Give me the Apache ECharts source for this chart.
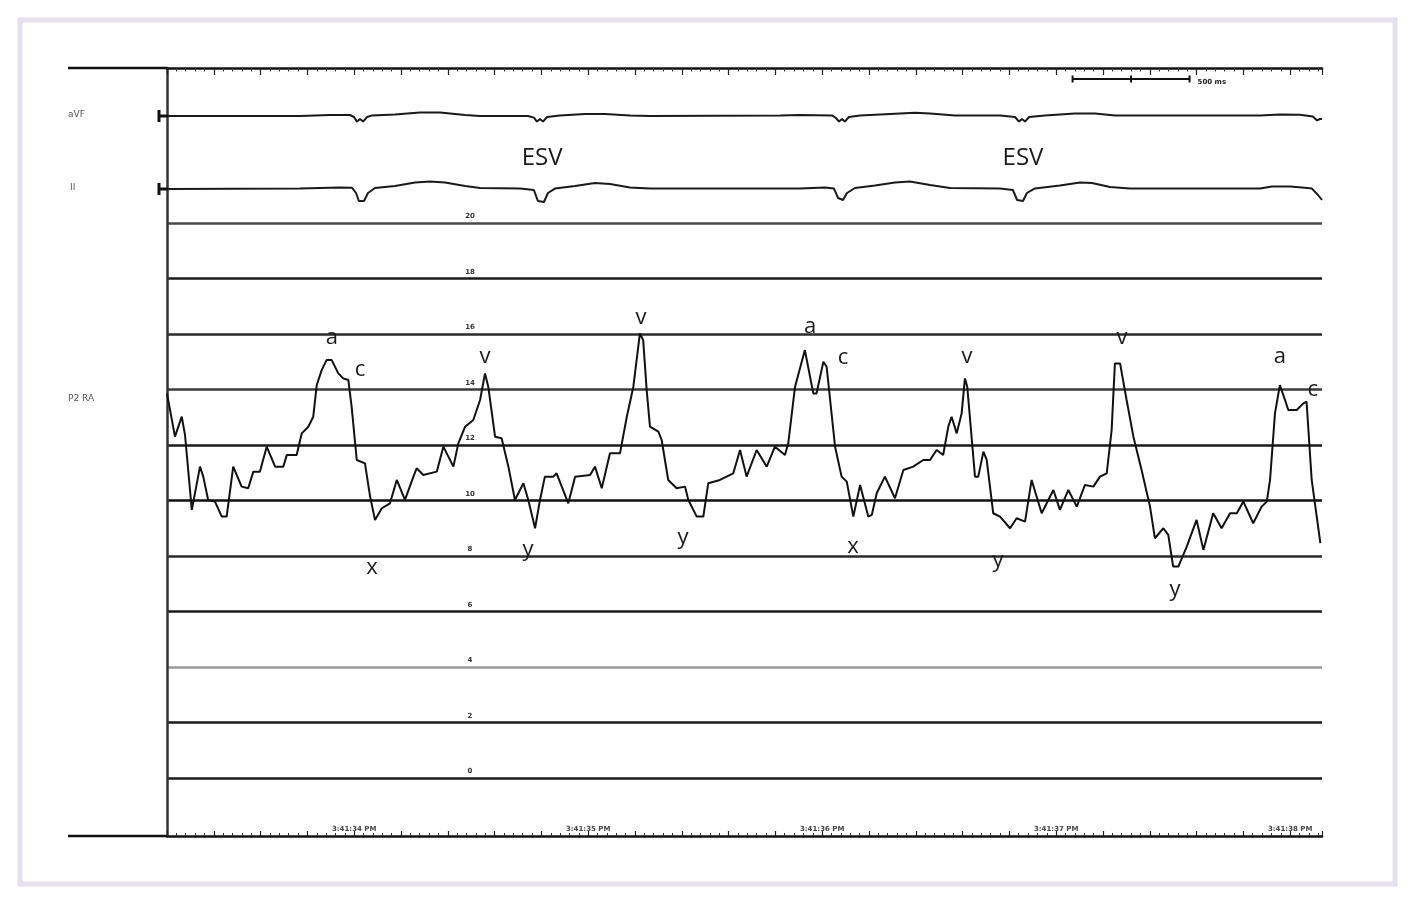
<!DOCTYPE html>
<html>
<head>
<meta charset="utf-8">
<script src="https://cdn.jsdelivr.net/npm/echarts@6/dist/echarts.min.js"></script>
<style>
html,body{margin:0;padding:0;background:#fff;}
#chart{width:1415px;height:904px;}
</style>
</head>
<body>
<div id="chart"></div>
<script>
// ---- Data ----
// Time axis (ms from start of strip)
var xMin = 0, xMax = 4936;
var timeLabelMs = [800, 1800, 2800, 3800, 4800];
var timeLabels = ['3:41:34 PM', '3:41:35 PM', '3:41:36 PM', '3:41:37 PM', '3:41:38 PM'];
var pressureTicks = [0, 2, 4, 6, 8, 10, 12, 14, 16, 18, 20];

// Right atrial pressure trace (mmHg)
var raTime = [0,34,63,77,106,141,155,176,205,234,255,283,319,347,369,397,426,462,497,512,554,576,604,625,640,661,682,704,732,753,775,789,811,846,868,889,918,953,982,1017,1053,1067,1095,1153,1181,1224,1245,1274,1309,1338,1359,1373,1402,1430,1459,1487,1523,1544,1573,1594,1615,1651,1665,1715,1744,1808,1829,1858,1893,1936,1965,1993,2021,2035,2050,2064,2100,2114,2142,2178,2214,2228,2264,2292,2313,2363,2420,2449,2477,2520,2563,2598,2641,2655,2684,2726,2762,2776,2805,2819,2855,2883,2905,2933,2962,2997,3012,3033,3068,3111,3147,3189,3232,3261,3289,3317,3339,3353,3375,3396,3410,3420,3453,3467,3489,3503,3531,3560,3603,3631,3667,3695,3738,3788,3816,3852,3888,3923,3959,3987,4016,4037,4051,4073,4101,4130,4165,4201,4222,4258,4279,4300,4322,4358,4400,4429,4471,4507,4543,4572,4600,4642,4678,4700,4714,4735,4756,4778,4792,4828,4856,4870,4892,4929];
var raValue = [13.86,12.30,13.02,12.36,9.66,11.22,10.86,10.02,9.96,9.42,9.42,11.22,10.50,10.44,11.04,11.04,11.94,11.22,11.22,11.64,11.64,12.42,12.66,13.02,14.16,14.70,15.06,15.06,14.58,14.40,14.34,13.38,11.46,11.34,10.14,9.30,9.72,9.90,10.74,10.02,10.86,11.16,10.92,11.04,11.94,11.22,12.06,12.66,12.90,13.62,14.58,14.10,12.30,12.24,11.22,10.02,10.62,10.02,9.00,10.02,10.86,10.86,10.98,9.90,10.86,10.92,11.22,10.44,11.70,11.70,13.02,14.10,16.02,15.78,13.98,12.66,12.48,12.18,10.74,10.44,10.50,10.02,9.42,9.42,10.62,10.74,10.98,11.82,10.86,11.82,11.22,11.94,11.64,12.06,14.10,15.42,13.86,13.86,15.00,14.82,11.94,10.86,10.68,9.42,10.56,9.42,9.48,10.26,10.86,10.08,11.10,11.22,11.46,11.46,11.82,11.64,12.66,13.02,12.42,13.14,14.40,14.10,10.86,10.86,11.76,11.46,9.54,9.42,9.00,9.36,9.24,10.74,9.54,10.38,9.66,10.38,9.78,10.56,10.50,10.86,10.98,12.54,14.94,14.94,13.62,12.30,11.10,9.78,8.64,9.00,8.76,7.62,7.62,8.34,9.30,8.22,9.54,9.00,9.54,9.54,9.96,9.18,9.78,9.96,10.74,13.14,14.16,13.62,13.26,13.26,13.50,13.56,10.74,8.46];

// ECG lead aVF (relative units)
var avfTime = [0,568,697,782,799,812,825,838,855,876,974,1081,1167,1274,1338,1543,1568,1581,1594,1607,1624,1679,1786,1872,1979,2064,2620,2705,2842,2859,2872,2885,2897,2914,2962,3090,3197,3261,3368,3560,3624,3641,3654,3667,3684,3752,3880,3966,4051,4671,4756,4842,4897,4915,4927,4936];
var avfValue = [0,0,0.05,0.05,-0.05,-0.28,-0.15,-0.28,-0.05,0.03,0.08,0.17,0.17,0.05,0,0,-0.08,-0.28,-0.15,-0.28,-0.05,0.03,0.10,0.10,0.02,0,0.02,0.05,0.03,-0.10,-0.28,-0.15,-0.28,-0.05,0.03,0.10,0.16,0.12,0.02,0.02,-0.05,-0.28,-0.15,-0.28,-0.05,0.03,0.12,0.12,0.02,0.03,0.08,0.06,-0.02,-0.22,-0.15,-0.15];

// ECG lead II (relative units)
var iiTime = [0,568,739,791,808,820,842,859,889,974,1060,1124,1188,1274,1338,1509,1568,1585,1611,1628,1658,1744,1829,1893,1979,2064,2705,2812,2850,2868,2889,2906,2940,3026,3111,3175,3261,3346,3560,3615,3633,3658,3675,3709,3816,3902,3953,4030,4115,4671,4722,4799,4863,4893,4919,4936];
var iiValue = [0,0.02,0.08,0.06,-0.20,-0.60,-0.60,-0.20,0.05,0.15,0.32,0.38,0.32,0.15,0.05,0.02,-0.05,-0.60,-0.65,-0.20,0.02,0.15,0.30,0.25,0.08,0.02,0.02,0.08,0.03,-0.45,-0.55,-0.20,0.05,0.18,0.32,0.38,0.20,0.05,0.03,-0.05,-0.55,-0.60,-0.20,0.03,0.18,0.32,0.30,0.10,0.02,0.03,0.12,0.12,0.06,0.02,-0.30,-0.55];

// Wave annotations on the pressure trace
var waveText  = ['a','c','x','v','y','v','y','a','c','x','v','y','v','y','a','c'];
var waveTime  = [705,825,876,1359,1543,2026,2205,2748,2889,2932,3419,3551,4081,4308,4756,4897];
var waveValue = [15.86,14.70,7.57,15.17,8.22,16.58,8.65,16.25,15.14,8.32,15.17,7.82,15.86,6.77,15.17,13.98];

// ESV (extrasystole) annotations
var esvText = ['ESV', 'ESV'];
var esvTime = [1603, 3658];
var esvPos = 0.883;

// 500 ms scale bar
var scaleStart = 3870, scaleLen = 500, scaleLabel = '500 ms', scalePos = 0.9857;

// Channel names
var channelNames = ['aVF', 'II', 'P2 RA'];

function zip(a, b) { return a.map(function (v, i) { return [v, b[i]]; }); }

var L = 167, W = 1155;
var chart = echarts.init(document.getElementById('chart'), null, {renderer: 'canvas'});

var option = {
  animation: false,
  backgroundColor: '#ffffff',
  grid: [
    {left: L, top: 68, width: W, height: 768},   // frame
    {left: L, top: 223, width: W, height: 555},  // pressure
    {left: L, top: 96, width: W, height: 40},    // aVF
    {left: L, top: 169, width: W, height: 40}    // II
  ],
  xAxis: [
    {gridIndex: 0, type: 'value', min: xMin, max: xMax, interval: 200, position: 'bottom',
     axisLine: {show: true, lineStyle: {color: '#111', width: 2.5}},
     axisTick: {show: true, inside: true, length: 5, lineStyle: {color: '#222', width: 1.2}},
     minorTick: {show: true, splitNumber: 5, length: 3, lineStyle: {color: '#333', width: 1}},
     splitLine: {show: false},
     axisLabel: {show: true, inside: true, interval: 0, margin: 3, fontSize: 7, fontWeight: 'bold',
       color: '#444', fontFamily: 'DejaVu Sans', showMinLabel: true, showMaxLabel: true,
       formatter: function (v) { var i = timeLabelMs.indexOf(Math.round(v)); return i >= 0 ? timeLabels[i] : ''; }}},
    {gridIndex: 0, type: 'value', min: xMin, max: xMax, interval: 200, position: 'top',
     axisLine: {show: true, lineStyle: {color: '#111', width: 2.5}},
     axisTick: {show: true, inside: true, length: 7, lineStyle: {color: '#222', width: 1.2}},
     minorTick: {show: true, splitNumber: 5, length: 3.5, lineStyle: {color: '#333', width: 1}},
     splitLine: {show: false}, axisLabel: {show: false}},
    {gridIndex: 1, type: 'value', min: xMin, max: xMax, show: false},
    {gridIndex: 2, type: 'value', min: xMin, max: xMax, show: false},
    {gridIndex: 3, type: 'value', min: xMin, max: xMax, show: false}
  ],
  yAxis: [
    {gridIndex: 0, type: 'value', min: 0, max: 1, position: 'left',
     axisLine: {show: true, lineStyle: {color: '#333', width: 2.5}},
     axisTick: {show: false}, axisLabel: {show: false}, splitLine: {show: false}},
    {gridIndex: 1, type: 'value', min: pressureTicks[0], max: pressureTicks[pressureTicks.length - 1], interval: 2,
     position: 'left', offset: -303,
     axisLine: {show: false}, axisTick: {show: false},
     axisLabel: {show: true, margin: 0, align: 'center', verticalAlign: 'bottom', padding: [0, 0, 3, 0],
       fontSize: 7, fontWeight: 'bold', color: '#333', fontFamily: 'DejaVu Sans'},
     splitLine: {show: true, lineStyle: {width: 2.6,
       color: ['#1a1a1a', '#1a1a1a', '#9a9a9a', '#1a1a1a', '#2a2a2a', '#111', '#1a1a1a', '#3a3a3a', '#2a2a2a', '#1a1a1a', '#4a4a4a']}}},
    {gridIndex: 2, type: 'value', min: -1, max: 1, show: false},
    {gridIndex: 3, type: 'value', min: -1, max: 1, show: false}
  ],
  series: [
    {type: 'line', name: 'P2 RA', xAxisIndex: 2, yAxisIndex: 1, data: zip(raTime, raValue),
     showSymbol: false, symbol: 'none', lineStyle: {color: '#111', width: 2}},
    {type: 'line', name: 'aVF', xAxisIndex: 3, yAxisIndex: 2, data: zip(avfTime, avfValue),
     showSymbol: false, symbol: 'none', lineStyle: {color: '#1a1a1a', width: 2},
     markPoint: {silent: true, label: {show: false}, itemStyle: {color: '#111'},
       data: [{coord: [0, 0], symbol: 'rect', symbolSize: [3, 12], symbolOffset: [-8, 0]},
              {coord: [0, 0], symbol: 'rect', symbolSize: [9, 3], symbolOffset: [-4, 0]}]}},
    {type: 'line', name: 'II', xAxisIndex: 4, yAxisIndex: 3, data: zip(iiTime, iiValue),
     showSymbol: false, symbol: 'none', lineStyle: {color: '#1a1a1a', width: 2},
     markPoint: {silent: true, label: {show: false}, itemStyle: {color: '#111'},
       data: [{coord: [0, 0], symbol: 'rect', symbolSize: [3, 12], symbolOffset: [-8, 0]},
              {coord: [0, 0], symbol: 'rect', symbolSize: [9, 3], symbolOffset: [-4, 0]}]}},
    {type: 'scatter', name: 'waves', xAxisIndex: 2, yAxisIndex: 1, symbolSize: 0,
     itemStyle: {opacity: 1},
     data: waveTime.map(function (t, i) { return [t, waveValue[i], waveText[i]]; }),
     label: {show: true, position: 'inside', formatter: function (p) { return p.value[2]; },
       fontSize: 22, fontWeight: 500, color: '#1a1a1a', fontFamily: 'Open Sans'}},
    {type: 'scatter', name: 'ESV', xAxisIndex: 0, yAxisIndex: 0, symbolSize: 0,
     itemStyle: {opacity: 1},
     data: esvTime.map(function (t, i) { return [t, esvPos, esvText[i]]; }),
     label: {show: true, position: 'inside', formatter: function (p) { return p.value[2]; },
       fontSize: 24, fontWeight: 'normal', color: '#1a1a1a', fontFamily: 'Open Sans'}},
    {type: 'line', name: 'scale', xAxisIndex: 0, yAxisIndex: 0,
     data: [[scaleStart, scalePos], [scaleStart + scaleLen / 2, scalePos], [scaleStart + scaleLen, scalePos]],
     symbol: 'rect', symbolSize: [2, 7], showSymbol: true, itemStyle: {color: '#111'},
     lineStyle: {color: '#111', width: 2},
     label: {show: false},
     endLabel: {show: true, formatter: scaleLabel, fontSize: 7, fontWeight: 'bold', color: '#222',
       fontFamily: 'DejaVu Sans', distance: 8, offset: [0, 3]}}
  ],
  graphic: [
    {type: 'rect', shape: {x: 20, y: 20, width: 1375, height: 864},
     style: {fill: 'none', stroke: '#e5e0ee', lineWidth: 5}, silent: true},
    {type: 'line', shape: {x1: 68, y1: 68, x2: L, y2: 68}, style: {stroke: '#111', lineWidth: 2.5}},
    {type: 'line', shape: {x1: 68, y1: 836, x2: L, y2: 836}, style: {stroke: '#111', lineWidth: 2.5}},
    {type: 'text', left: 68, top: 110, style: {text: channelNames[0], fontSize: 9, fill: '#555', fontFamily: 'DejaVu Sans'}},
    {type: 'text', left: 70, top: 183, style: {text: channelNames[1], fontSize: 9, fill: '#555', fontFamily: 'DejaVu Sans'}},
    {type: 'text', left: 68, top: 394, style: {text: channelNames[2], fontSize: 9, fill: '#555', fontFamily: 'DejaVu Sans'}}
  ]
};
chart.setOption(option);
</script>
</body>
</html>
